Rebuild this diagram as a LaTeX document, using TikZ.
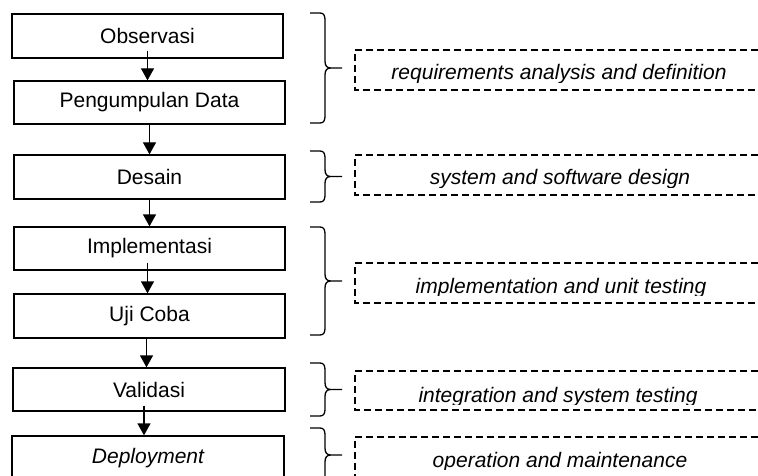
\documentclass[tikz,border=0pt]{standalone}
\usepackage{fontspec}
\setmainfont{Liberation Sans}
\usetikzlibrary{arrows.meta,calc}
\newcommand\phbrace[2]{%
  \draw[phasebrace] let \p1=(#1), \p2=(#2), \n1={(\y1+\y2)/2} in
   (\x1,\y1) -- ($(\x1,\y1)+(10,0)$) .. controls ($(\x1,\y1)+(14,0)$) and ($(\x1,\y1)+(15,3)$) .. ($(\x1,\y1)+(15,7)$)
   -- ($(\x1,\n1)+(15,-7)$) .. controls ($(\x1,\n1)+(15,-2)$) and ($(\x1,\n1)+(17,0)$) .. ($(\x1,\n1)+(21,0)$) -- ($(\x1,\n1)+(32,0)$)
   ($(\x1,\n1)+(21,0)$) .. controls ($(\x1,\n1)+(17,0)$) and ($(\x1,\n1)+(15,2)$) .. ($(\x1,\n1)+(15,7)$)
   -- ($(\x2,\y2)+(15,-7)$) .. controls ($(\x2,\y2)+(15,-3)$) and ($(\x2,\y2)+(14,0)$) .. ($(\x2,\y2)+(10,0)$) -- (\x2,\y2);}
\begin{document}
\begin{tikzpicture}[x=1pt,y=-1pt,
  stepbox/.style={draw,line width=1.3pt,rectangle,minimum width=271pt,inner sep=0pt,
     font=\fontsize{21}{25}\selectfont},
  flow/.style={line width=1.3pt,-{Triangle[width=13pt,length=12pt]}},
  phasebrace/.style={line width=1.3pt,line join=round},
  phasebox/.style={draw,line width=1.3pt,dash pattern=on 7pt off 4pt},
  phasetext/.style={anchor=base,inner sep=0pt,font=\fontsize{21}{25}\selectfont\itshape}]
\clip (0,0) rectangle (758,476);
\fill[white] (0,0) rectangle (758,476);
% steps
\node[stepbox,minimum height=44pt] (obs) at (147.5,36) {Observasi};
\node[stepbox,minimum height=43pt] (peng) at (149.5,102.5) {Pengumpulan Data};
\node[stepbox,minimum height=44pt] (des) at (149.5,177) {Desain};
\node[stepbox,minimum height=43pt] (impl) at (149.5,248.5) {Implementasi};
\node[stepbox,minimum height=44pt] (uji) at (149.5,316) {Uji Coba};
\node[stepbox,minimum height=43pt,minimum width=272pt] (val) at (149,389.5) {Validasi};
\node[stepbox,minimum height=44pt,minimum width=272pt] (dep) at (148,458) {\itshape Deployment};
% arrows
\draw[flow] ([yshift=8pt]obs.south) -- (obs.south |- peng.north);
\draw[flow] (peng.south) -- (peng.south |- des.north);
\draw[flow] (des.south) -- (des.south |- impl.north);
\draw[flow] ([yshift=8pt,xshift=-2pt]impl.south) -- ([xshift=-2pt]impl.south |- uji.north);
\draw[flow] ([xshift=-3pt]uji.south) -- ([xshift=-3pt]uji.south |- val.north);
\draw[flow] ([yshift=6pt,xshift=-5pt]val.south) -- ([xshift=-5pt]val.south |- dep.north);
% braces
\coordinate (b1t) at (310,13);  \coordinate (b1b) at (310,123);
\coordinate (b2t) at (310,151); \coordinate (b2b) at (310,202);
\coordinate (b3t) at (310,227); \coordinate (b3b) at (310,335);
\coordinate (b4t) at (310,363); \coordinate (b4b) at (310,416);
\coordinate (b5t) at (310,428); \coordinate (b5b) at (310,482);
\phbrace{b1t}{b1b}
\phbrace{b2t}{b2b}
\phbrace{b3t}{b3b}
\phbrace{b4t}{b4b}
\phbrace{b5t}{b5b}
% dashed phase boxes
\draw[phasebox] (780,50) -- (355,50) -- (355,90) -- (780,90);
\draw[phasebox] (780,155) -- (355,155) -- (355,195) -- (780,195);
\draw[phasebox] (780,263) -- (355,263) -- (355,303) -- (780,303);
\draw[phasebox] (780,371) -- (355,371) -- (355,410) -- (780,410);
\draw[phasebox] (780,437) -- (355,437) -- (355,490);
% phase labels (bottoms clipped as in the source)
\begin{scope}\clip (357,52) rectangle (780,82.5);
\node[phasetext] (p1) at (559,80) {requirements analysis and definition};\end{scope}
\begin{scope}\clip (357,157) rectangle (780,187.5);
\node[phasetext] (p2) at (560,185) {system and software design};\end{scope}
\begin{scope}\clip (357,265) rectangle (780,295.5);
\node[phasetext] (p3) at (561,293) {implementation and unit testing};\end{scope}
\begin{scope}\clip (357,373) rectangle (780,404.5);
\node[phasetext] (p4) at (558,402) {integration and system testing};\end{scope}
\begin{scope}\clip (357,439) rectangle (780,469.5);
\node[phasetext] (p5) at (560,467) {operation and maintenance};\end{scope}
\end{tikzpicture}
\end{document}
